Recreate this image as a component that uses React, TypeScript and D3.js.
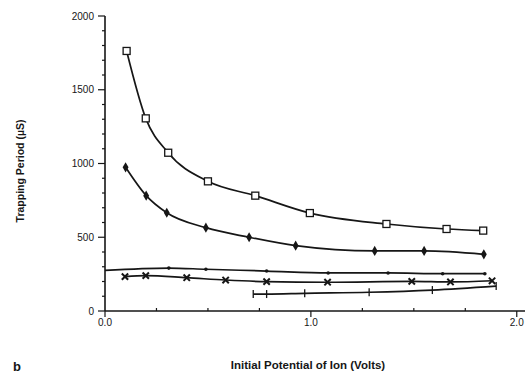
import { useEffect, useRef } from 'react'
import * as d3 from 'd3'

type Pt = [number, number]

// series (volts, microseconds)
const squareSeries: Pt[] = [
  [0.105, 1763], [0.198, 1306], [0.307, 1073], [0.5, 879], [0.73, 782],
  [0.995, 664], [1.367, 590], [1.659, 556], [1.837, 545],
]
const diamondSeries: Pt[] = [
  [0.1, 974], [0.2, 782], [0.3, 666], [0.49, 565], [0.7, 500],
  [0.926, 443], [1.31, 407], [1.55, 407], [1.84, 384],
]
const dotSeries: Pt[] = [
  [0.0, 275], [0.31, 291], [0.49, 283], [0.785, 271], [1.084, 258],
  [1.375, 258], [1.64, 253], [1.845, 253],
]
const crossSeries: Pt[] = [
  [0.097, 233], [0.198, 240], [0.397, 226], [0.586, 210], [0.785, 199],
  [1.081, 195], [1.49, 201], [1.678, 197], [1.88, 205],
]
const plusSeries: Pt[] = [
  [0.72, 115], [0.785, 115], [0.97, 120], [1.283, 127], [1.59, 142], [1.9, 169],
]

const yTicks = [0, 500, 1000, 1500, 2000]
const xTicks = [0, 1, 2]

const W = 532
const H = 374
const INK = '#161616'
const FONT = '"Liberation Sans", Arial, sans-serif'

export default function App() {
  const svgRef = useRef<SVGSVGElement>(null)

  useEffect(() => {
    const svg = d3.select(svgRef.current)
    svg.selectAll('*').remove()

    const x = d3.scaleLinear().domain([0, 2.04]).range([105, 525])
    const y = d3.scaleLinear().domain([0, 2000]).range([311, 16])

    const g = svg.append('g')

    // y axis
    g.append('line')
      .attr('x1', x(0)).attr('x2', x(0))
      .attr('y1', y(2000)).attr('y2', y(0))
      .attr('stroke', INK).attr('stroke-width', 1.6)
    d3.range(0, 2001, 100).forEach((v) => {
      const major = v % 500 === 0
      g.append('line')
        .attr('x1', x(0) - (major ? 7 : 3)).attr('x2', x(0))
        .attr('y1', y(v)).attr('y2', y(v))
        .attr('stroke', INK).attr('stroke-width', 1.2)
    })
    yTicks.forEach((v) => {
      g.append('text')
        .attr('x', x(0) - 11).attr('y', y(v) + 3.5)
        .attr('text-anchor', 'end')
        .attr('font-size', 10)
        .attr('font-family', FONT)
        .attr('fill', INK)
        .text(v)
    })

    // x axis
    g.append('line')
      .attr('x1', x(0)).attr('x2', x(2.04))
      .attr('y1', y(0)).attr('y2', y(0))
      .attr('stroke', INK).attr('stroke-width', 1.6)
    d3.range(0, 2.01, 0.25).forEach((v) => {
      const major = Math.abs(v - Math.round(v)) < 1e-6
      g.append('line')
        .attr('x1', x(v)).attr('x2', x(v))
        .attr('y1', y(0) - (major ? 0 : 3)).attr('y2', y(0) + (major ? 6 : 0))
        .attr('stroke', INK).attr('stroke-width', 1.2)
    })
    xTicks.forEach((v) => {
      g.append('text')
        .attr('x', x(v)).attr('y', y(0) + 15)
        .attr('text-anchor', 'middle')
        .attr('font-size', 10)
        .attr('font-family', FONT)
        .attr('fill', INK)
        .text(v.toFixed(1))
    })

    // axis titles
    g.append('text')
      .attr('transform', `translate(24,171) rotate(-90)`)
      .attr('text-anchor', 'middle')
      .attr('font-size', 10.5)
      .attr('font-weight', 'bold')
      .attr('font-family', FONT)
      .attr('fill', INK)
      .text('Trapping Period (µS)')
    g.append('text')
      .attr('x', 308).attr('y', 369)
      .attr('text-anchor', 'middle')
      .attr('font-size', 11.5)
      .attr('font-weight', 'bold')
      .attr('font-family', FONT)
      .attr('fill', INK)
      .text('Initial Potential of Ion (Volts)')
    g.append('text')
      .attr('x', 13).attr('y', 371)
      .attr('font-size', 13)
      .attr('font-weight', 'bold')
      .attr('font-family', FONT)
      .attr('fill', INK)
      .text('b')

    const line = d3.line<Pt>()
      .x((d) => x(d[0]))
      .y((d) => y(d[1]))
      .curve(d3.curveMonotoneX)

    const all = [squareSeries, diamondSeries, dotSeries, crossSeries, plusSeries]
    all.forEach((s) => {
      g.append('path')
        .datum(s)
        .attr('fill', 'none')
        .attr('stroke', INK)
        .attr('stroke-width', 1.7)
        .attr('d', line)
    })

    // markers
    g.selectAll('.sq').data(squareSeries).join('rect')
      .attr('x', (d) => x(d[0]) - 3.5).attr('y', (d) => y(d[1]) - 3.5)
      .attr('width', 7).attr('height', 7)
      .attr('fill', '#fff').attr('stroke', INK).attr('stroke-width', 1.3)

    g.selectAll('.dm').data(diamondSeries).join('path')
      .attr('d', d3.symbol(d3.symbolDiamond, 30)())
      .attr('transform', (d) => `translate(${x(d[0])},${y(d[1])})`)
      .attr('fill', INK)

    g.selectAll('.dt').data(dotSeries.slice(1)).join('circle')
      .attr('cx', (d) => x(d[0])).attr('cy', (d) => y(d[1]))
      .attr('r', 1.8).attr('fill', INK)

    g.selectAll('.cr').data(crossSeries).join('path')
      .attr('d', d3.symbol(d3.symbolX, 28)())
      .attr('transform', (d) => `translate(${x(d[0])},${y(d[1])})`)
      .attr('stroke', INK).attr('stroke-width', 2).attr('fill', 'none')

    g.selectAll('.pl').data(plusSeries).join('line')
      .attr('x1', (d) => x(d[0])).attr('x2', (d) => x(d[0]))
      .attr('y1', (d) => y(d[1]) - 4).attr('y2', (d) => y(d[1]) + 4)
      .attr('stroke', INK).attr('stroke-width', 1.3)
  }, [])

  return (
    <svg
      ref={svgRef}
      width={W}
      height={H}
      style={{ position: 'fixed', left: 0, top: 0, background: '#fff' }}
    />
  )
}
